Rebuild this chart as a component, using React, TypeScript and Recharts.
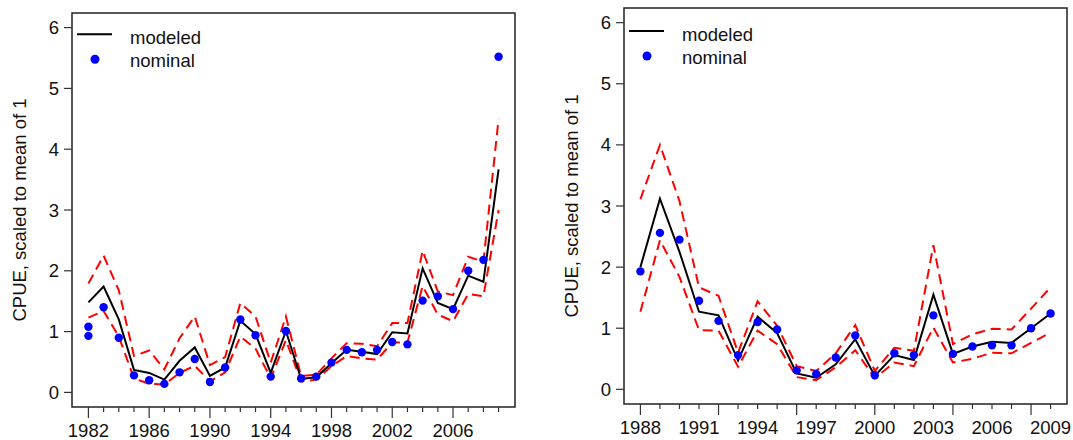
import React from "react";
import {
  ComposedChart,
  Line,
  Scatter,
  XAxis,
  YAxis,
  ReferenceArea,
} from "recharts";

// ─── Data ─────────────────────────────────────────────────────────────────────

const LEFT_YEARS = [
  1982, 1983, 1984, 1985, 1986, 1987, 1988, 1989, 1990, 1991, 1992, 1993, 1994, 1995,
  1996, 1997, 1998, 1999, 2000, 2001, 2002, 2003, 2004, 2005, 2006, 2007, 2008, 2009,
];
const LEFT_MODELED = [
  1.48, 1.74, 1.2, 0.37, 0.32, 0.21, 0.52, 0.74, 0.27, 0.41, 1.18, 0.96, 0.32, 1.01,
  0.22, 0.25, 0.48, 0.7, 0.67, 0.63, 0.99, 0.97, 2.04, 1.47, 1.37, 1.92, 1.82, 3.67,
];
const LEFT_UPPER = [
  1.79, 2.25, 1.68, 0.6, 0.69, 0.38, 0.89, 1.25, 0.45, 0.58, 1.47, 1.25, 0.49, 1.25,
  0.27, 0.29, 0.56, 0.81, 0.8, 0.76, 1.14, 1.14, 2.33, 1.66, 1.6, 2.23, 2.15, 4.5,
];
const LEFT_LOWER = [
  1.23, 1.34, 0.92, 0.23, 0.14, 0.13, 0.32, 0.44, 0.18, 0.33, 0.92, 0.72, 0.23, 0.86,
  0.18, 0.21, 0.43, 0.6, 0.56, 0.54, 0.82, 0.82, 1.75, 1.28, 1.17, 1.62, 1.58, 3.0,
];
// nominal points (1982 has two)
const LEFT_NOMINAL_YEARS = [
  1982, 1982, 1983, 1984, 1985, 1986, 1987, 1988, 1989, 1990, 1991, 1992, 1993, 1994,
  1995, 1996, 1997, 1998, 1999, 2000, 2001, 2002, 2003, 2004, 2005, 2006, 2007, 2008, 2009,
];
const LEFT_NOMINAL = [
  1.08, 0.93, 1.4, 0.9, 0.28, 0.2, 0.14, 0.33, 0.55, 0.17, 0.41, 1.2, 0.94, 0.26,
  1.01, 0.23, 0.26, 0.49, 0.7, 0.66, 0.7, 0.83, 0.79, 1.51, 1.58, 1.37, 2.0, 2.18, 5.52,
];

const RIGHT_YEARS = [
  1988, 1989, 1990, 1991, 1992, 1993, 1994, 1995, 1996, 1997, 1998,
  1999, 2000, 2001, 2002, 2003, 2004, 2005, 2006, 2007, 2008, 2009,
];
const RIGHT_MODELED = [
  2.0, 3.12, 2.25, 1.27, 1.21, 0.47, 1.19, 0.92, 0.26, 0.19, 0.41,
  0.82, 0.22, 0.56, 0.48, 1.55, 0.58, 0.7, 0.78, 0.76, 1.0, 1.24,
];
const RIGHT_UPPER = [
  3.11, 4.0, 3.08, 1.67, 1.53, 0.6, 1.44, 1.04, 0.38, 0.3, 0.59,
  1.05, 0.3, 0.68, 0.63, 2.36, 0.74, 0.9, 0.99, 0.98, 1.32, 1.67,
];
const RIGHT_LOWER = [
  1.27, 2.44, 1.84, 0.97, 0.96, 0.37, 0.96, 0.74, 0.2, 0.15, 0.36,
  0.64, 0.18, 0.44, 0.38, 1.01, 0.44, 0.5, 0.6, 0.59, 0.76, 0.93,
];
const RIGHT_NOMINAL = [
  1.93, 2.56, 2.45, 1.45, 1.12, 0.56, 1.1, 0.98, 0.31, 0.25, 0.52,
  0.88, 0.23, 0.59, 0.56, 1.21, 0.58, 0.7, 0.72, 0.72, 1.0, 1.24,
];

const Y_TICKS = [0, 1, 2, 3, 4, 5, 6];
const Y_LABEL = "CPUE, scaled to mean of 1";

// ─── Style ────────────────────────────────────────────────────────────────────

const FONT = '"Liberation Sans", Arial, sans-serif';
const FONT_SIZE = 18.5;
const RED = "#ff0000";
const BLUE = "#0000ff";
const DASH = "10 6";

// ─── Helpers ──────────────────────────────────────────────────────────────────

function makeRows(years: number[], modeled: number[], upper: number[], lower: number[]) {
  return years.map((year, i) => ({
    year,
    modeled: modeled[i],
    upper: upper[i],
    lower: lower[i],
  }));
}

function makePoints(years: number[], values: number[]) {
  return years.map((year, i) => ({ year, value: values[i] }));
}

// R-style domain: 4% padding on each side
function padDomain(lo: number, hi: number): [number, number] {
  const d = (hi - lo) * 0.04;
  return [lo - d, hi + d];
}

function makeYearTick(start: number, longEvery: number, labelEvery: number) {
  return (props: any) => {
    const { x, y, payload } = props;
    const yr = payload.value as number;
    const isLong = (yr - start) % longEvery === 0;
    const hasLabel = (yr - start) % labelEvery === 0;
    return (
      <g>
        <line x1={x} x2={x} y1={y} y2={y + (isLong ? 11 : 5)} stroke="#333" strokeWidth={1.2} />
        {hasLabel && (
          <text x={x} y={y + 30} textAnchor="middle" fontSize={FONT_SIZE} fill="#111" fontFamily={FONT}>
            {yr}
          </text>
        )}
      </g>
    );
  };
}

const NominalDot = (props: any) => (
  <circle cx={props.cx} cy={props.cy} r={4.2} fill={BLUE} />
);

// ─── Panel ────────────────────────────────────────────────────────────────────

interface PanelProps {
  left: number;
  width: number;
  top: number;
  xAxisHeight: number;
  rightMargin: number;
  years: number[];
  rows: { year: number; modeled: number; upper: number; lower: number }[];
  points: { year: number; value: number }[];
  tickStart: number;
  longEvery: number;
  labelEvery: number;
}

function Panel(p: PanelProps) {
  const xDomain = padDomain(p.years[0], p.years[p.years.length - 1]);
  const yDomain = padDomain(0, 6);
  return (
    <div style={{ position: "absolute", left: p.left, top: 0 }}>
      <ComposedChart
        width={p.width}
        height={440}
        data={p.rows}
        margin={{ top: p.top, right: p.rightMargin, left: 0, bottom: 0 }}
        style={{ fontFamily: FONT }}
      >
        <XAxis
          dataKey="year"
          type="number"
          domain={xDomain}
          allowDataOverflow
          ticks={p.years}
          interval={0}
          tickSize={0}
          tickMargin={0}
          axisLine={false}
          tickLine={false}
          height={p.xAxisHeight}
          tick={makeYearTick(p.tickStart, p.longEvery, p.labelEvery)}
        />
        <YAxis
          type="number"
          domain={yDomain}
          allowDataOverflow
          ticks={Y_TICKS}
          interval={0}
          width={72}
          tickSize={8}
          tickMargin={5}
          axisLine={false}
          tickLine={{ stroke: "#333", strokeWidth: 1.2 }}
          tick={{ fontSize: FONT_SIZE, fill: "#111", fontFamily: FONT }}
          label={{
            value: Y_LABEL,
            angle: -90,
            position: "insideLeft",
            offset: 19,
            style: { fontSize: FONT_SIZE, fill: "#111", textAnchor: "middle", fontFamily: FONT },
          }}
        />
        <ReferenceArea
          x1={xDomain[0]}
          x2={xDomain[1]}
          y1={yDomain[0]}
          y2={yDomain[1]}
          fill="none"
          stroke="#222"
          strokeWidth={1.5}
          ifOverflow="visible"
        />
        <Line type="linear" dataKey="upper" stroke={RED} strokeWidth={2} strokeDasharray={DASH} dot={false} isAnimationActive={false} />
        <Line type="linear" dataKey="lower" stroke={RED} strokeWidth={2} strokeDasharray={DASH} dot={false} isAnimationActive={false} />
        <Line type="linear" dataKey="modeled" stroke="#000" strokeWidth={2} dot={false} isAnimationActive={false} />
        <Scatter data={p.points} dataKey="value" shape={NominalDot} isAnimationActive={false} />
      </ComposedChart>
    </div>
  );
}

// legend drawn the way R's legend() lays it out
function LegendBox({ x, y }: { x: number; y: number }) {
  return (
    <g fontFamily={FONT} fontSize={FONT_SIZE} fill="#111">
      <line x1={x} x2={x + 35} y1={y} y2={y} stroke="#000" strokeWidth={2} />
      <text x={x + 53} y={y + 10}>modeled</text>
      <circle cx={x + 18} cy={y + 25} r={4.5} fill={BLUE} />
      <text x={x + 53} y={y + 32.5}>nominal</text>
    </g>
  );
}

export default function App() {
  const leftRows = makeRows(LEFT_YEARS, LEFT_MODELED, LEFT_UPPER, LEFT_LOWER);
  const leftPoints = makePoints(LEFT_NOMINAL_YEARS, LEFT_NOMINAL);
  const rightRows = makeRows(RIGHT_YEARS, RIGHT_MODELED, RIGHT_UPPER, RIGHT_LOWER);
  const rightPoints = makePoints(RIGHT_YEARS, RIGHT_NOMINAL);

  return (
    <div
      style={{
        position: "absolute",
        left: 0,
        top: 0,
        width: 1073,
        height: 440,
        background: "#fff",
        fontFamily: FONT,
      }}
    >
      <Panel
        left={0}
        width={530}
        top={13}
        xAxisHeight={33}
        rightMargin={15}
        years={LEFT_YEARS}
        rows={leftRows}
        points={leftPoints}
        tickStart={1982}
        longEvery={4}
        labelEvery={4}
      />
      <Panel
        left={552}
        width={521}
        top={8}
        xAxisHeight={36}
        rightMargin={6}
        years={RIGHT_YEARS}
        rows={rightRows}
        points={rightPoints}
        tickStart={1988}
        longEvery={4}
        labelEvery={3}
      />
      <svg
        width={1073}
        height={440}
        style={{ position: "absolute", left: 0, top: 0, pointerEvents: "none" }}
      >
        <LegendBox x={77} y={34.3} />
        <LegendBox x={629} y={31} />
      </svg>
    </div>
  );
}
